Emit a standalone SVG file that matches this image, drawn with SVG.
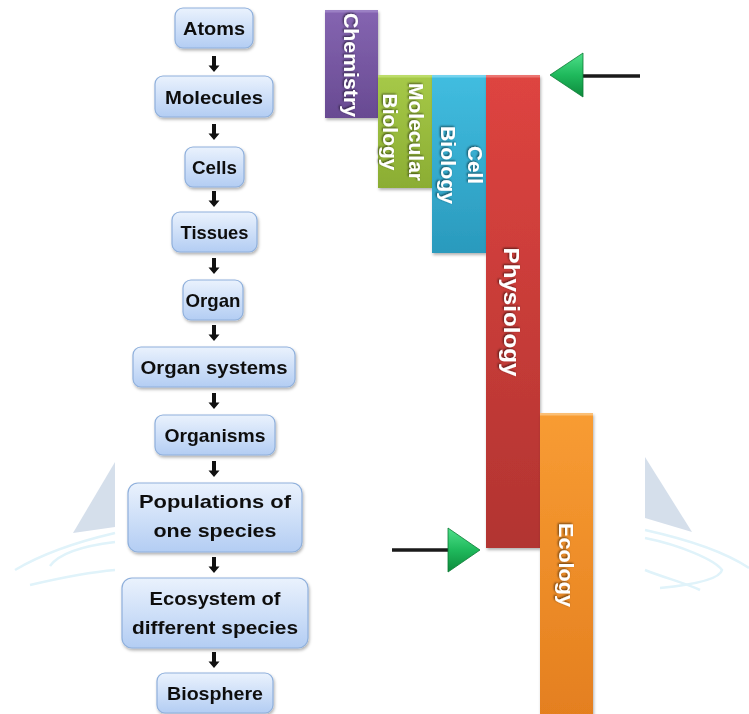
<svg xmlns="http://www.w3.org/2000/svg" width="749" height="714" viewBox="0 0 749 714">
<defs>
<style>
.box{fill:url(#boxg);stroke:#8fb0dc;stroke-width:1.2}
.bt{font-family:"Liberation Sans",Arial,sans-serif;font-weight:bold;font-size:19px;fill:#111;text-anchor:middle}
.bar{stroke:none}
.vt{font-family:"Liberation Sans",Arial,sans-serif;font-weight:bold;font-size:20px;fill:#fff;text-anchor:middle}
.ln{stroke:#1a1a1a;stroke-width:3.5;fill:none}
.wm{fill:#d5dfeb}
.arc{fill:none;stroke:#e0f3fa;stroke-width:2.5}
</style>
<linearGradient id="boxg" x1="0" y1="0" x2="0" y2="1">
<stop offset="0" stop-color="#eaf2fd"/><stop offset="1" stop-color="#b3cdf3"/>
</linearGradient>
<linearGradient id="gPur" x1="0" y1="0" x2="0" y2="1"><stop offset="0" stop-color="#8565b1"/><stop offset="1" stop-color="#684a92"/></linearGradient>
<linearGradient id="gGrn" x1="0" y1="0" x2="0" y2="1"><stop offset="0" stop-color="#a6c948"/><stop offset="1" stop-color="#8bad33"/></linearGradient>
<linearGradient id="gBlu" x1="0" y1="0" x2="0" y2="1"><stop offset="0" stop-color="#41bde0"/><stop offset="1" stop-color="#2a9abd"/></linearGradient>
<linearGradient id="gRed" x1="0" y1="0" x2="0" y2="1"><stop offset="0" stop-color="#de4440"/><stop offset="1" stop-color="#b23431"/></linearGradient>
<linearGradient id="gOrg" x1="0" y1="0" x2="0" y2="1"><stop offset="0" stop-color="#f89c33"/><stop offset="1" stop-color="#e47f1f"/></linearGradient>
<linearGradient id="gTri" x1="0" y1="0" x2="0" y2="1"><stop offset="0" stop-color="#4fe08a"/><stop offset="0.5" stop-color="#1fb95c"/><stop offset="1" stop-color="#0d8a3c"/></linearGradient>
<filter id="sh" x="-20%" y="-20%" width="140%" height="150%"><feDropShadow dx="1" dy="2" stdDeviation="1.5" flood-color="#000" flood-opacity="0.3"/></filter>
<filter id="tsh" x="-20%" y="-20%" width="140%" height="140%"><feDropShadow dx="-1" dy="1" stdDeviation="0.8" flood-color="#000" flood-opacity="0.6"/></filter>
<path id="dn" d="M-2,0 H2 V9.5 H5.5 L0,16 L-5.5,9.5 H-2 Z" fill="#111"/>
</defs>
<rect width="749" height="714" fill="#fff"/>
<g id="watermark">
<polygon class="wm" points="115,462 73,533 115,527"/>
<path class="arc" d="M15,570 C45,552 85,540 115,533"/>
<path class="arc" d="M50,566 C60,552 90,545 115,542"/>
<path class="arc" d="M30,585 C60,578 90,572 115,570"/>
<polygon class="wm" points="645,457 692,532 645,518"/>
<path class="arc" d="M645,530 C690,540 725,552 749,568"/>
<path class="arc" d="M645,538 C680,545 715,560 722,570 C720,580 690,585 660,588"/>
<path class="arc" d="M645,570 C665,578 685,583 700,590"/>
</g>
<g id="connectors">
<use href="#dn" x="214" y="56"/>
<use href="#dn" x="214" y="124"/>
<use href="#dn" x="214" y="191"/>
<use href="#dn" x="214" y="258"/>
<use href="#dn" x="214" y="325"/>
<use href="#dn" x="214" y="393"/>
<use href="#dn" x="214" y="461"/>
<use href="#dn" x="214" y="557"/>
<use href="#dn" x="214" y="652"/>
</g>
<g id="atoms" filter="url(#sh)"><rect class="box" x="175" y="8" width="78" height="40" rx="8"/><text class="bt" x="214" y="35" textLength="62" lengthAdjust="spacingAndGlyphs">Atoms</text></g>
<g id="molecules" filter="url(#sh)"><rect class="box" x="155" y="76" width="118" height="41" rx="8"/><text class="bt" x="214" y="103.5" textLength="98" lengthAdjust="spacingAndGlyphs">Molecules</text></g>
<g id="cells" filter="url(#sh)"><rect class="box" x="185" y="147" width="59" height="40" rx="8"/><text class="bt" x="214.5" y="174" textLength="45" lengthAdjust="spacingAndGlyphs">Cells</text></g>
<g id="tissues" filter="url(#sh)"><rect class="box" x="172" y="212" width="85" height="40" rx="8"/><text class="bt" x="214.5" y="239" textLength="68" lengthAdjust="spacingAndGlyphs">Tissues</text></g>
<g id="organ" filter="url(#sh)"><rect class="box" x="183" y="280" width="60" height="40" rx="8"/><text class="bt" x="213" y="307" textLength="55" lengthAdjust="spacingAndGlyphs">Organ</text></g>
<g id="organ-systems" filter="url(#sh)"><rect class="box" x="133" y="347" width="162" height="40" rx="8"/><text class="bt" x="214" y="374" textLength="147" lengthAdjust="spacingAndGlyphs">Organ systems</text></g>
<g id="organisms" filter="url(#sh)"><rect class="box" x="155" y="415" width="120" height="40" rx="8"/><text class="bt" x="215" y="442" textLength="101" lengthAdjust="spacingAndGlyphs">Organisms</text></g>
<g id="populations" filter="url(#sh)"><rect class="box" x="128" y="483" width="174" height="69" rx="10"/><text class="bt" x="215" y="508" textLength="152" lengthAdjust="spacingAndGlyphs">Populations of</text><text class="bt" x="215" y="537" textLength="123" lengthAdjust="spacingAndGlyphs">one species</text></g>
<g id="ecosystem" filter="url(#sh)"><rect class="box" x="122" y="578" width="186" height="70" rx="10"/><text class="bt" x="215" y="605" textLength="131" lengthAdjust="spacingAndGlyphs">Ecosystem of</text><text class="bt" x="215" y="634" textLength="166" lengthAdjust="spacingAndGlyphs">different species</text></g>
<g id="biosphere" filter="url(#sh)"><rect class="box" x="157" y="673" width="116" height="40" rx="8"/><text class="bt" x="215" y="700" textLength="96" lengthAdjust="spacingAndGlyphs">Biosphere</text></g>
<g id="chemistry" filter="url(#sh)"><rect class="bar" x="325" y="10" width="53" height="108" fill="url(#gPur)"/><rect x="325" y="10" width="53" height="2.5" fill="#9b80c4"/><text class="vt" filter="url(#tsh)" transform="translate(351,65) rotate(90)" y="7" textLength="104" lengthAdjust="spacingAndGlyphs">Chemistry</text></g>
<g id="molecular-biology" filter="url(#sh)"><rect class="bar" x="378" y="75" width="54" height="113" fill="url(#gGrn)"/><rect x="378" y="75" width="54" height="2.5" fill="#bcdc6a"/><text class="vt" filter="url(#tsh)" transform="translate(405,132) rotate(90)"><tspan x="0" y="-4" textLength="98" lengthAdjust="spacingAndGlyphs">Molecular</tspan><tspan x="0" y="22" textLength="77" lengthAdjust="spacingAndGlyphs">Biology</tspan></text></g>
<g id="cell-biology" filter="url(#sh)"><rect class="bar" x="432" y="75" width="54" height="178" fill="url(#gBlu)"/><rect x="432" y="75" width="54" height="2.5" fill="#74d3ee"/><text class="vt" filter="url(#tsh)" transform="translate(461,165) rotate(90)"><tspan x="0" y="-7" textLength="38" lengthAdjust="spacingAndGlyphs">Cell</tspan><tspan x="0" y="20" textLength="78" lengthAdjust="spacingAndGlyphs">Biology</tspan></text></g>
<g id="physiology" filter="url(#sh)"><rect class="bar" x="486" y="75" width="54" height="473" fill="url(#gRed)"/><rect x="486" y="75" width="54" height="2.5" fill="#ec7471"/><text class="vt" filter="url(#tsh)" style="font-size:22px" transform="translate(512,312) rotate(90)" y="8" textLength="129" lengthAdjust="spacingAndGlyphs">Physiology</text></g>
<g id="ecology" filter="url(#sh)"><rect class="bar" x="540" y="413" width="53" height="305" fill="url(#gOrg)"/><rect x="540" y="413" width="53" height="2.5" fill="#fbbf74"/><text class="vt" filter="url(#tsh)" transform="translate(566,565) rotate(90)" y="7" textLength="84" lengthAdjust="spacingAndGlyphs">Ecology</text></g>
<g id="arrow-top"><line class="ln" x1="583" y1="76" x2="640" y2="76"/><polygon points="550,75 583,53 583,97" fill="url(#gTri)" stroke="#0b7a34" stroke-width="0.8"/></g>
<g id="arrow-bottom"><line class="ln" x1="392" y1="550" x2="448" y2="550"/><polygon points="480,550 448,528 448,572" fill="url(#gTri)" stroke="#0b7a34" stroke-width="0.8"/></g>
</svg>
